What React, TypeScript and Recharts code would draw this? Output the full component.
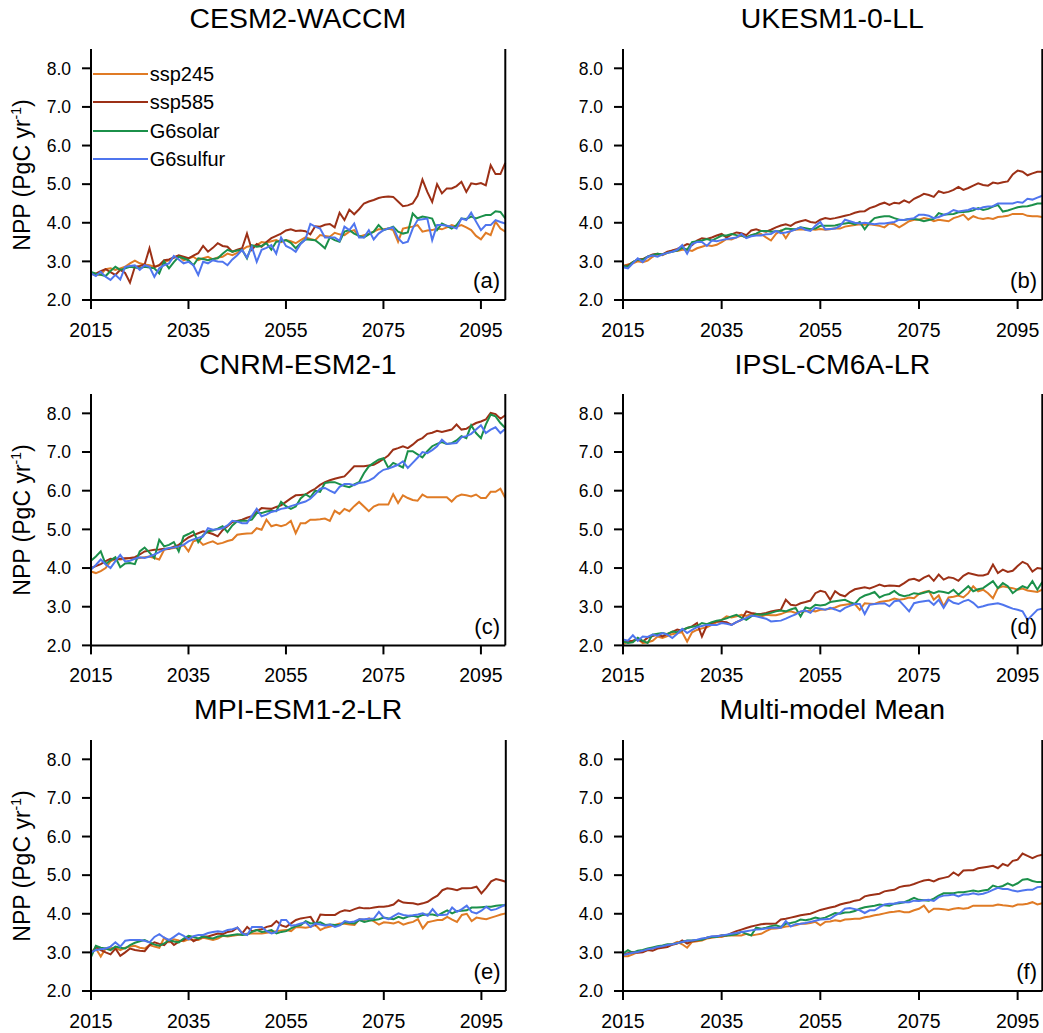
import React from 'react';
import { LineChart, Line, XAxis, YAxis, Legend } from 'recharts';

const FONT = '"Liberation Sans", Arial, Helvetica, sans-serif';

const YEARS: number[] = Array.from({ length: 86 }, (_, i) => 2015 + i);
const X_TICKS = [2015, 2035, 2055, 2075, 2095];
const Y_TICKS = [2, 3, 4, 5, 6, 7, 8];

const SERIES = [
  { key: 'ssp245', name: 'ssp245', color: '#E07B25' },
  { key: 'ssp585', name: 'ssp585', color: '#9C3016' },
  { key: 'G6solar', name: 'G6solar', color: '#1B904A' },
  { key: 'G6sulfur', name: 'G6sulfur', color: '#4F75EE' },
];

// (a) CESM2-WACCM
const cesm_ssp245 = [
  2.68, 2.65, 2.66, 2.80, 2.82, 2.78, 2.82, 2.86, 2.95, 3.02,
  2.95, 2.92, 2.90, 2.86, 2.90, 2.98, 3.03, 3.10, 3.14, 3.03,
  3.08, 3.12, 3.03, 3.08, 3.12, 3.05, 3.10, 3.12, 3.20, 3.16,
  3.22, 3.30, 3.38, 3.40, 3.42, 3.50, 3.48, 3.52, 3.55, 3.50,
  3.55, 3.52, 3.47, 3.55, 3.62, 3.58, 3.55, 3.68, 3.66, 3.64,
  3.74, 3.70, 3.68, 3.77, 3.81, 3.64, 3.68, 3.72, 3.77, 3.83,
  3.83, 3.85, 3.81, 3.51, 3.85, 3.88, 3.90, 3.94, 3.77, 3.80,
  3.81, 3.85, 3.83, 3.88, 3.94, 3.90, 3.94, 3.88, 3.81, 3.66,
  3.57, 3.74, 3.68, 4.03, 3.85, 3.77,
];
const cesm_ssp585 = [
  2.70, 2.68, 2.75, 2.80, 2.72, 2.65, 2.78, 2.70, 2.45, 2.86,
  2.88, 2.92, 3.34, 2.85, 2.90, 3.03, 3.05, 3.10, 3.16, 3.12,
  3.08, 3.15, 3.21, 3.40, 3.25, 3.35, 3.47, 3.40, 3.38, 3.25,
  3.30, 3.34, 3.72, 3.30, 3.45, 3.38, 3.50, 3.60, 3.66, 3.72,
  3.80, 3.83, 3.79, 3.80, 3.78, 3.70, 3.91, 3.90, 3.95, 3.97,
  3.88, 4.26, 4.07, 4.34, 4.22, 4.35, 4.50, 4.55, 4.59, 4.64,
  4.67, 4.68, 4.67, 4.55, 4.43, 4.45, 4.50, 4.70, 5.12, 4.80,
  4.54, 5.00, 4.76, 4.89, 4.89, 4.95, 5.06, 4.80, 5.02, 5.00,
  5.03, 4.97, 5.49, 5.26, 5.26, 5.55,
];
const cesm_g6solar = [
  2.73, 2.68, 2.65, 2.62, 2.75, 2.86, 2.78, 2.82, 2.86, 2.84,
  2.82, 2.86, 2.84, 2.82, 2.69, 3.00, 2.82, 2.98, 3.12, 3.08,
  3.03, 2.90, 3.08, 3.06, 3.03, 3.06, 3.08, 3.20, 3.30, 3.25,
  3.28, 3.30, 3.08, 3.42, 3.38, 3.40, 3.47, 3.30, 3.51, 3.52,
  3.55, 3.48, 3.34, 3.47, 3.57, 3.56, 3.55, 3.45, 3.34, 3.62,
  3.55, 3.51, 3.77, 3.81, 3.72, 3.66, 3.62, 3.70, 3.77, 3.94,
  3.81, 3.85, 3.90, 3.77, 3.72, 3.75, 4.24, 4.11, 4.16, 4.14,
  4.11, 3.81, 3.98, 3.92, 3.85, 3.94, 4.11, 4.10, 4.16, 4.11,
  4.16, 4.20, 4.20, 4.30, 4.28, 4.11,
];
const cesm_g6sulfur = [
  2.69, 2.62, 2.73, 2.60, 2.52, 2.65, 2.53, 2.86, 2.88, 2.90,
  2.78, 2.90, 2.86, 2.60, 2.82, 2.90, 2.95, 3.14, 3.05, 2.95,
  2.99, 2.90, 2.65, 2.99, 2.95, 3.03, 3.00, 2.99, 2.90, 3.05,
  3.16, 3.30, 3.10, 3.38, 2.99, 3.30, 3.35, 3.42, 3.20, 3.62,
  3.40, 3.34, 3.25, 3.45, 3.57, 3.97, 3.90, 3.85, 3.62, 3.62,
  3.62, 3.53, 3.90, 3.81, 3.98, 3.62, 3.62, 3.81, 3.57, 3.72,
  3.81, 3.85, 3.88, 3.60, 3.47, 3.51, 3.85, 4.07, 4.09, 4.11,
  3.55, 3.94, 3.94, 3.92, 3.90, 3.85, 4.11, 4.07, 4.26, 4.03,
  3.81, 3.94, 3.94, 4.07, 4.02, 3.98,
];

// (b) UKESM1-0-LL
const ukesm_ssp245 = [
  2.88, 2.92, 2.95, 3.00, 2.98, 3.02, 3.12, 3.18, 3.16, 3.22,
  3.28, 3.27, 3.30, 3.30, 3.27, 3.34, 3.38, 3.42, 3.40, 3.43,
  3.50, 3.58, 3.57, 3.62, 3.67, 3.62, 3.68, 3.70, 3.71, 3.62,
  3.54, 3.71, 3.80, 3.60, 3.80, 3.82, 3.83, 3.82, 3.83, 3.82,
  3.84, 3.82, 3.83, 3.86, 3.85, 3.90, 3.92, 3.94, 3.96, 3.95,
  3.96, 3.94, 3.92, 3.88, 3.98, 3.96, 3.88, 3.96, 4.04, 4.08,
  4.08, 4.12, 4.10, 4.04, 4.08, 4.06, 4.04, 4.12, 4.16, 4.21,
  4.08, 4.17, 4.12, 4.10, 4.12, 4.10, 4.15, 4.16, 4.18, 4.23,
  4.23, 4.23, 4.18, 4.17, 4.17, 4.15,
];
const ukesm_ssp585 = [
  2.88, 2.90, 2.98, 3.05, 3.06, 3.12, 3.18, 3.20, 3.18, 3.25,
  3.28, 3.32, 3.38, 3.45, 3.42, 3.54, 3.60, 3.58, 3.62, 3.67,
  3.71, 3.62, 3.70, 3.75, 3.73, 3.68, 3.80, 3.83, 3.79, 3.77,
  3.82, 3.88, 3.93, 3.96, 3.92, 4.00, 4.04, 4.07, 4.02, 4.00,
  4.08, 4.12, 4.10, 4.12, 4.15, 4.18, 4.21, 4.26, 4.29, 4.30,
  4.38, 4.42, 4.48, 4.52, 4.46, 4.52, 4.50, 4.58, 4.52, 4.62,
  4.68, 4.75, 4.72, 4.67, 4.82, 4.77, 4.80, 4.85, 4.93, 4.85,
  4.90, 4.96, 5.02, 4.98, 4.96, 5.04, 5.02, 5.05, 5.07, 5.25,
  5.35, 5.32, 5.23, 5.28, 5.32, 5.32,
];
const ukesm_g6solar = [
  2.88, 2.86, 2.98, 3.05, 3.04, 3.12, 3.16, 3.20, 3.18, 3.22,
  3.25, 3.28, 3.35, 3.30, 3.50, 3.52, 3.54, 3.58, 3.54, 3.60,
  3.67, 3.67, 3.71, 3.68, 3.67, 3.62, 3.68, 3.72, 3.79, 3.79,
  3.77, 3.78, 3.79, 3.85, 3.84, 3.83, 3.88, 3.86, 3.83, 3.85,
  3.92, 3.92, 3.92, 3.93, 3.96, 3.98, 4.00, 3.96, 4.02, 3.83,
  4.00, 4.12, 4.15, 4.17, 4.17, 4.12, 4.08, 4.07, 4.10, 4.10,
  4.08, 4.04, 4.07, 4.10, 4.25, 4.21, 4.22, 4.23, 4.27, 4.28,
  4.29, 4.32, 4.38, 4.33, 4.36, 4.42, 4.46, 4.29, 4.32, 4.36,
  4.40, 4.42, 4.43, 4.46, 4.50, 4.50,
];
const ukesm_g6sulfur = [
  2.85, 2.82, 2.95, 3.08, 2.98, 3.12, 3.15, 3.12, 3.18, 3.22,
  3.25, 3.30, 3.42, 3.20, 3.45, 3.50, 3.50, 3.40, 3.54, 3.52,
  3.55, 3.58, 3.60, 3.62, 3.71, 3.60, 3.65, 3.67, 3.67, 3.70,
  3.71, 3.79, 3.73, 3.75, 3.78, 3.83, 3.88, 3.82, 3.79, 3.92,
  4.02, 3.83, 3.84, 3.85, 3.92, 4.08, 4.04, 4.00, 3.98, 4.00,
  3.98, 3.96, 3.98, 3.98, 4.00, 4.02, 4.08, 4.07, 4.10, 4.12,
  4.21, 4.21, 4.18, 4.12, 4.15, 4.20, 4.25, 4.33, 4.29, 4.31,
  4.33, 4.38, 4.35, 4.40, 4.42, 4.43, 4.50, 4.50, 4.50, 4.50,
  4.54, 4.52, 4.62, 4.60, 4.65, 4.70,
];

// (c) CNRM-ESM2-1
const cnrm_ssp245 = [
  3.91, 3.87, 3.92, 4.00, 4.17, 4.24, 4.22, 4.24, 4.26, 4.24,
  4.26, 4.28, 4.30, 4.26, 4.22, 4.47, 4.50, 4.52, 4.53, 4.60,
  4.43, 4.69, 4.73, 4.60, 4.65, 4.69, 4.62, 4.65, 4.70, 4.73,
  4.86, 4.88, 4.89, 4.90, 5.03, 4.99, 5.25, 5.08, 5.12, 5.08,
  5.12, 5.22, 4.90, 5.16, 5.16, 5.25, 5.25, 5.26, 5.28, 5.22,
  5.48, 5.40, 5.53, 5.47, 5.60, 5.71, 5.59, 5.47, 5.59, 5.64,
  5.64, 5.64, 5.91, 5.68, 5.88, 5.81, 5.76, 5.74, 5.90, 5.83,
  5.83, 5.83, 5.83, 5.83, 5.72, 5.85, 5.90, 5.88, 5.85, 5.90,
  5.81, 5.81, 5.97, 5.97, 6.05, 5.81,
];
const cnrm_ssp585 = [
  4.00, 4.05, 4.10, 4.18, 4.24, 4.22, 4.24, 4.25, 4.26, 4.28,
  4.35, 4.43, 4.45, 4.47, 4.48, 4.50, 4.50, 4.55, 4.60, 4.70,
  4.79, 4.85, 4.90, 4.95, 4.92, 4.88, 4.82, 4.98, 5.08, 5.19,
  5.22, 5.25, 5.30, 5.34, 5.45, 5.55, 5.54, 5.53, 5.58, 5.62,
  5.71, 5.80, 5.88, 5.89, 5.90, 5.98, 6.05, 6.15, 6.22, 6.27,
  6.31, 6.34, 6.37, 6.50, 6.63, 6.63, 6.63, 6.65, 6.67, 6.74,
  6.82, 6.91, 7.06, 7.10, 7.15, 7.10, 7.19, 7.30, 7.36, 7.47,
  7.50, 7.55, 7.52, 7.55, 7.58, 7.71, 7.58, 7.60, 7.68, 7.75,
  7.79, 7.84, 8.01, 7.98, 7.86, 7.95,
];
const cnrm_g6solar = [
  4.19, 4.30, 4.43, 4.10, 4.20, 4.28, 4.02, 4.12, 4.13, 4.10,
  4.43, 4.53, 4.40, 4.26, 4.73, 4.56, 4.60, 4.67, 4.43, 4.82,
  4.88, 4.95, 4.67, 4.85, 4.95, 4.97, 5.02, 5.08, 4.93, 5.10,
  5.21, 5.22, 5.22, 5.25, 5.42, 5.42, 5.46, 5.48, 5.47, 5.71,
  5.60, 5.53, 5.59, 5.80, 5.91, 5.83, 6.00, 5.97, 6.20, 6.22,
  6.22, 6.17, 6.12, 6.09, 6.16, 6.22, 6.45, 6.63, 6.72, 6.80,
  6.84, 6.59, 6.72, 6.66, 6.60, 7.02, 7.02, 6.94, 6.86, 7.02,
  7.15, 7.21, 7.26, 7.21, 7.23, 7.30, 7.41, 7.36, 7.69, 7.49,
  7.36, 7.71, 7.97, 7.92, 7.75, 7.62,
];
const cnrm_g6sulfur = [
  3.96, 4.08, 4.22, 4.10, 4.00, 4.18, 4.34, 4.17, 4.19, 4.24,
  4.28, 4.26, 4.30, 4.35, 4.41, 4.48, 4.52, 4.53, 4.56, 4.60,
  4.69, 4.74, 4.78, 4.82, 5.03, 4.99, 5.00, 5.03, 5.10, 5.22,
  5.20, 5.16, 5.16, 5.35, 5.53, 5.34, 5.38, 5.45, 5.48, 5.53,
  5.55, 5.60, 5.64, 5.68, 5.72, 5.79, 5.91, 6.05, 6.07, 6.00,
  5.94, 6.10, 6.17, 6.17, 6.14, 6.20, 6.22, 6.26, 6.33, 6.45,
  6.54, 6.57, 6.62, 6.67, 6.76, 6.59, 6.72, 6.85, 7.00, 6.97,
  7.05, 7.15, 7.32, 7.21, 7.22, 7.23, 7.38, 7.41, 7.47, 7.58,
  7.69, 7.49, 7.58, 7.64, 7.49, 7.60,
];

// (d) IPSL-CM6A-LR
const ipsl_ssp245 = [
  2.03, 2.10, 2.12, 2.17, 2.06, 2.08, 2.12, 2.23, 2.19, 2.24,
  2.29, 2.32, 2.34, 2.10, 2.34, 2.40, 2.44, 2.47, 2.53, 2.60,
  2.66, 2.75, 2.72, 2.75, 2.79, 2.76, 2.81, 2.78, 2.75, 2.79,
  2.78, 2.78, 2.81, 2.86, 2.88, 2.84, 2.87, 2.88, 2.90, 2.88,
  2.92, 2.93, 2.95, 2.98, 3.03, 3.05, 3.07, 3.07, 2.92, 3.09,
  3.08, 3.07, 3.12, 3.14, 3.16, 3.21, 3.18, 3.20, 3.24, 3.22,
  3.33, 3.38, 3.41, 3.18, 3.29, 3.01, 3.24, 3.26, 3.29, 3.24,
  3.35, 3.53, 3.40, 3.44, 3.35, 3.22, 3.48, 3.53, 3.50, 3.48,
  3.44, 3.47, 3.42, 3.40, 3.38, 3.44,
];
const ipsl_ssp585 = [
  2.09, 2.10, 2.12, 2.15, 2.10, 2.20, 2.24, 2.28, 2.23, 2.30,
  2.35, 2.41, 2.38, 2.45, 2.49, 2.58, 2.23, 2.52, 2.58, 2.62,
  2.61, 2.60, 2.53, 2.60, 2.66, 2.88, 2.84, 2.82, 2.81, 2.84,
  2.88, 2.90, 2.92, 3.18, 3.05, 3.03, 3.09, 3.12, 3.16, 3.35,
  3.41, 3.38, 3.18, 3.40, 3.31, 3.27, 3.38, 3.45, 3.48, 3.50,
  3.47, 3.52, 3.57, 3.53, 3.55, 3.54, 3.53, 3.61, 3.70, 3.72,
  3.67, 3.75, 3.81, 3.67, 3.83, 3.70, 3.76, 3.74, 3.67, 3.80,
  3.87, 3.84, 3.81, 3.81, 3.85, 4.09, 3.87, 3.96, 3.90, 3.93,
  4.05, 4.16, 4.10, 3.91, 4.00, 3.98,
];
const ipsl_g6solar = [
  2.10, 2.06, 2.08, 2.20, 2.12, 2.06, 2.28, 2.30, 2.32, 2.29,
  2.36, 2.34, 2.40, 2.45, 2.48, 2.50, 2.58, 2.55, 2.60, 2.64,
  2.66, 2.70, 2.75, 2.79, 2.72, 2.66, 2.75, 2.81, 2.79, 2.81,
  2.84, 2.88, 2.90, 2.88, 2.93, 2.97, 2.75, 2.98, 2.95, 3.05,
  3.03, 3.05, 3.12, 3.14, 3.16, 3.18, 3.12, 3.07, 3.22, 3.29,
  3.33, 3.38, 3.24, 3.30, 3.33, 3.41, 3.31, 3.27, 3.30, 3.35,
  3.33, 3.36, 3.40, 3.35, 3.40, 3.38, 3.35, 3.44, 3.31, 3.42,
  3.53, 3.40, 3.45, 3.48, 3.57, 3.66, 3.48, 3.61, 3.53, 3.35,
  3.45, 3.53, 3.48, 3.66, 3.44, 3.64,
];
const ipsl_g6sulfur = [
  2.15, 2.12, 2.26, 2.12, 2.23, 2.22, 2.28, 2.25, 2.32, 2.28,
  2.19, 2.30, 2.43, 2.32, 2.40, 2.47, 2.50, 2.53, 2.53, 2.53,
  2.58, 2.56, 2.53, 2.60, 2.66, 2.71, 2.77, 2.75, 2.72, 2.69,
  2.62, 2.63, 2.64, 2.69, 2.75, 2.80, 2.88, 2.90, 2.84, 2.97,
  2.95, 2.92, 2.97, 2.93, 2.88, 2.97, 3.02, 3.07, 3.07, 2.81,
  3.05, 3.07, 3.08, 3.09, 3.01, 3.14, 3.16, 3.02, 2.88, 3.09,
  3.12, 3.14, 3.16, 3.05, 3.18, 2.97, 3.18, 3.10, 3.07, 3.14,
  3.18, 3.10, 2.98, 3.01, 3.05, 3.07, 3.09, 3.05, 3.00, 2.95,
  2.92, 2.88, 2.66, 2.79, 2.92, 2.95,
];

// (e) MPI-ESM1-2-LR
const mpi_ssp245 = [
  3.02, 3.10, 2.89, 3.10, 3.11, 3.12, 3.06, 3.12, 3.15, 3.17,
  3.12, 3.10, 3.19, 3.15, 3.12, 3.38, 3.26, 3.34, 3.31, 3.29,
  3.34, 3.33, 3.32, 3.38, 3.35, 3.32, 3.36, 3.43, 3.41, 3.43,
  3.45, 3.47, 3.48, 3.49, 3.49, 3.49, 3.51, 3.53, 3.55, 3.57,
  3.58, 3.55, 3.66, 3.65, 3.64, 3.66, 3.71, 3.58, 3.64, 3.67,
  3.71, 3.75, 3.74, 3.72, 3.71, 3.86, 3.84, 3.88, 3.80, 3.72,
  3.78, 3.77, 3.75, 3.79, 3.72, 3.76, 3.79, 3.86, 3.62, 3.78,
  3.81, 3.84, 3.84, 3.92, 3.85, 3.79, 3.97, 4.00, 3.81, 3.90,
  3.88, 3.86, 3.90, 3.94, 3.98, 4.01,
];
const mpi_ssp585 = [
  2.93, 3.15, 3.06, 3.00, 2.95, 3.10, 2.91, 3.00, 3.10, 3.06,
  3.04, 3.03, 3.19, 3.26, 3.22, 3.19, 3.32, 3.19, 3.28, 3.32,
  3.41, 3.29, 3.35, 3.41, 3.41, 3.45, 3.49, 3.47, 3.53, 3.55,
  3.64, 3.49, 3.66, 3.55, 3.58, 3.60, 3.66, 3.69, 3.81, 3.70,
  3.66, 3.75, 3.84, 3.88, 3.90, 3.92, 3.72, 3.98, 3.97, 3.97,
  3.97, 4.05, 4.09, 4.07, 4.12, 4.16, 4.14, 4.14, 4.16, 4.18,
  4.18, 4.20, 4.24, 4.35, 4.29, 4.28, 4.27, 4.24, 4.27, 4.31,
  4.40, 4.47, 4.61, 4.66, 4.64, 4.61, 4.66, 4.66, 4.67, 4.70,
  4.53, 4.67, 4.84, 4.90, 4.87, 4.83,
];
const mpi_g6solar = [
  2.88, 3.17, 3.12, 3.10, 3.06, 3.15, 3.12, 3.10, 3.19, 3.25,
  3.29, 3.32, 3.26, 3.20, 3.17, 3.23, 3.32, 3.28, 3.26, 3.36,
  3.43, 3.40, 3.36, 3.41, 3.38, 3.36, 3.41, 3.43, 3.43, 3.45,
  3.47, 3.45, 3.46, 3.53, 3.58, 3.53, 3.55, 3.58, 3.49, 3.53,
  3.55, 3.62, 3.68, 3.71, 3.81, 3.75, 3.76, 3.78, 3.71, 3.72,
  3.71, 3.71, 3.78, 3.76, 3.75, 3.84, 3.79, 3.82, 3.84, 3.86,
  3.90, 3.88, 3.86, 3.92, 3.88, 3.93, 3.95, 3.92, 3.97, 3.98,
  3.98, 3.95, 4.02, 4.09, 4.01, 4.07, 4.08, 4.09, 4.16, 4.16,
  4.17, 4.18, 4.18, 4.21, 4.22, 4.22,
];
const mpi_g6sulfur = [
  3.00, 3.06, 3.08, 3.10, 3.15, 3.26, 3.15, 3.30, 3.32, 3.32,
  3.32, 3.30, 3.26, 3.40, 3.47, 3.38, 3.32, 3.40, 3.49, 3.43,
  3.34, 3.42, 3.45, 3.45, 3.50, 3.53, 3.55, 3.53, 3.58, 3.60,
  3.64, 3.49, 3.45, 3.66, 3.66, 3.66, 3.55, 3.49, 3.53, 3.84,
  3.84, 3.69, 3.71, 3.75, 3.78, 3.66, 3.75, 3.72, 3.69, 3.72,
  3.66, 3.70, 3.81, 3.78, 3.80, 3.86, 3.86, 3.87, 3.88, 4.05,
  3.90, 3.86, 3.94, 4.01, 3.97, 3.95, 3.96, 3.98, 4.01, 3.95,
  4.12, 3.97, 3.97, 3.98, 4.16, 4.05, 4.12, 4.21, 4.05, 4.01,
  4.08, 4.18, 4.09, 4.12, 4.18, 4.24,
];

// (f) Multi-model Mean
const mmm_ssp245 = [
  2.90, 2.90, 2.95, 3.01, 3.04, 3.06, 3.10, 3.12, 3.16, 3.18,
  3.21, 3.27, 3.21, 3.12, 3.27, 3.29, 3.31, 3.36, 3.38, 3.40,
  3.40, 3.44, 3.44, 3.44, 3.44, 3.48, 3.44, 3.46, 3.48, 3.55,
  3.61, 3.62, 3.64, 3.67, 3.68, 3.70, 3.74, 3.74, 3.76, 3.79,
  3.70, 3.79, 3.80, 3.83, 3.81, 3.85, 3.86, 3.87, 3.87, 3.91,
  3.93, 3.96, 3.98, 4.01, 4.04, 4.05, 4.07, 4.04, 4.04, 4.09,
  4.13, 4.21, 4.04, 4.13, 4.13, 4.12, 4.10, 4.13, 4.15, 4.13,
  4.15, 4.21, 4.21, 4.21, 4.21, 4.21, 4.24, 4.22, 4.21, 4.19,
  4.24, 4.24, 4.26, 4.30, 4.24, 4.27,
];
const mmm_ssp585 = [
  2.95, 2.98, 3.01, 2.99, 3.00, 3.06, 3.04, 3.10, 3.12, 3.14,
  3.20, 3.23, 3.31, 3.23, 3.29, 3.31, 3.33, 3.38, 3.40, 3.42,
  3.44, 3.44, 3.50, 3.55, 3.59, 3.63, 3.67, 3.70, 3.73, 3.74,
  3.74, 3.75, 3.85, 3.87, 3.90, 3.93, 3.96, 3.98, 4.00, 4.05,
  4.10, 4.13, 4.16, 4.19, 4.24, 4.27, 4.30, 4.34, 4.36, 4.45,
  4.48, 4.50, 4.52, 4.58, 4.60, 4.62, 4.69, 4.72, 4.73, 4.77,
  4.82, 4.86, 4.88, 4.84, 4.90, 4.93, 4.96, 5.07, 4.99, 5.12,
  5.13, 5.13, 5.18, 5.20, 5.22, 5.24, 5.18, 5.29, 5.24, 5.37,
  5.40, 5.56, 5.50, 5.44, 5.50, 5.53,
];
const mmm_g6solar = [
  2.97, 3.06, 2.99, 3.04, 3.06, 3.10, 3.13, 3.16, 3.18, 3.21,
  3.21, 3.24, 3.27, 3.31, 3.31, 3.32, 3.33, 3.38, 3.40, 3.40,
  3.44, 3.44, 3.45, 3.47, 3.53, 3.48, 3.44, 3.64, 3.61, 3.64,
  3.68, 3.70, 3.66, 3.74, 3.76, 3.79, 3.85, 3.83, 3.86, 3.90,
  3.87, 3.90, 3.96, 4.02, 4.00, 4.03, 4.04, 4.07, 4.13, 4.17,
  4.19, 4.21, 4.24, 4.22, 4.21, 4.26, 4.27, 4.30, 4.35, 4.41,
  4.36, 4.35, 4.34, 4.39, 4.47, 4.53, 4.53, 4.53, 4.56, 4.56,
  4.58, 4.60, 4.58, 4.60, 4.62, 4.73, 4.69, 4.72, 4.79, 4.73,
  4.79, 4.88, 4.90, 4.85, 4.82, 4.82,
];
const mmm_g6sulfur = [
  2.93, 2.96, 2.99, 3.01, 3.04, 3.08, 3.10, 3.14, 3.16, 3.19,
  3.21, 3.24, 3.27, 3.30, 3.31, 3.33, 3.36, 3.38, 3.42, 3.42,
  3.44, 3.46, 3.48, 3.50, 3.53, 3.55, 3.57, 3.59, 3.60, 3.62,
  3.64, 3.64, 3.64, 3.81, 3.67, 3.73, 3.74, 3.76, 3.79, 3.82,
  3.85, 3.86, 3.87, 3.96, 4.02, 4.13, 4.15, 4.12, 4.09, 4.02,
  4.09, 4.09, 4.17, 4.24, 4.26, 4.26, 4.30, 4.30, 4.30, 4.34,
  4.33, 4.35, 4.36, 4.33, 4.43, 4.47, 4.48, 4.50, 4.45, 4.50,
  4.50, 4.53, 4.50, 4.52, 4.56, 4.62, 4.67, 4.64, 4.64, 4.60,
  4.58, 4.60, 4.62, 4.62, 4.69, 4.70,
];

type Row = { year: number; ssp245: number; ssp585: number; G6solar: number; G6sulfur: number };

function buildData(a: number[], b: number[], c: number[], d: number[]): Row[] {
  return YEARS.map((year, i) => ({ year, ssp245: a[i], ssp585: b[i], G6solar: c[i], G6sulfur: d[i] }));
}

type Box = { l: number; t: number; r: number; b: number };

const PANELS: { title: string; tag: string; box: Box; data: Row[]; ylabel: boolean; legend: boolean }[] = [
  { title: 'CESM2-WACCM', tag: '(a)', box: { l: 90.7, t: 49, r: 505, b: 300 }, data: buildData(cesm_ssp245, cesm_ssp585, cesm_g6solar, cesm_g6sulfur), ylabel: true, legend: true },
  { title: 'UKESM1-0-LL', tag: '(b)', box: { l: 622.7, t: 49, r: 1042, b: 300 }, data: buildData(ukesm_ssp245, ukesm_ssp585, ukesm_g6solar, ukesm_g6sulfur), ylabel: false, legend: false },
  { title: 'CNRM-ESM2-1', tag: '(c)', box: { l: 90.7, t: 394.3, r: 505, b: 645.7 }, data: buildData(cnrm_ssp245, cnrm_ssp585, cnrm_g6solar, cnrm_g6sulfur), ylabel: true, legend: false },
  { title: 'IPSL-CM6A-LR', tag: '(d)', box: { l: 622.7, t: 394.3, r: 1042, b: 645.7 }, data: buildData(ipsl_ssp245, ipsl_ssp585, ipsl_g6solar, ipsl_g6sulfur), ylabel: false, legend: false },
  { title: 'MPI-ESM1-2-LR', tag: '(e)', box: { l: 90.7, t: 740, r: 505.5, b: 991 }, data: buildData(mpi_ssp245, mpi_ssp585, mpi_g6solar, mpi_g6sulfur), ylabel: true, legend: false },
  { title: 'Multi-model Mean', tag: '(f)', box: { l: 622.7, t: 740, r: 1042, b: 991 }, data: buildData(mmm_ssp245, mmm_ssp585, mmm_g6solar, mmm_g6sulfur), ylabel: false, legend: false },
];

const LW = 60;
const RW = 12;
const MT = 4;
const MR = 2;
const XH = 40;

const axisLineStyle = { stroke: '#000', strokeWidth: 2 };

const LegendContent = () => (
  <div style={{ fontFamily: FONT, fontSize: 20, color: '#000' }}>
    {SERIES.map((s) => (
      <div key={s.key} style={{ display: 'flex', alignItems: 'center', height: 28.5 }}>
        <svg width={55} height={4} style={{ display: 'block' }}>
          <line x1={0} y1={2} x2={55} y2={2} stroke={s.color} strokeWidth={2} />
        </svg>
        <span style={{ marginLeft: 2, lineHeight: '20px' }}>{s.name}</span>
      </div>
    ))}
  </div>
);

function Panel({ p }: { p: (typeof PANELS)[number] }) {
  const { box } = p;
  const W = box.r - box.l + LW + RW + MR;
  const H = box.b - box.t + MT + XH;
  const left = box.l - LW;
  const top = box.t - MT;
  return (
    <div style={{ position: 'absolute', left, top, width: W, height: H }}>
      <LineChart width={W} height={H} data={p.data} margin={{ top: MT, right: MR, bottom: 0, left: 0 }}>
        <XAxis
          xAxisId="b"
          dataKey="year"
          type="number"
          domain={[2015, 2100]}
          ticks={X_TICKS}
          interval={0}
          height={XH}
          tickSize={9}
          tickMargin={14}
          axisLine={axisLineStyle}
          tickLine={axisLineStyle}
          tick={{ fontSize: 19.5, fill: '#000', fontFamily: FONT }}
        />
        <XAxis
          xAxisId="t"
          orientation="top"
          dataKey="year"
          type="number"
          domain={[2015, 2100]}
          height={0}
          tick={false}
          tickLine={false}
          axisLine={axisLineStyle}
        />
        <YAxis
          yAxisId="l"
          type="number"
          domain={[2, 8.5]}
          ticks={Y_TICKS}
          interval={0}
          width={LW}
          tickSize={9}
          tickMargin={11}
          tickFormatter={(v: number) => v.toFixed(1)}
          axisLine={axisLineStyle}
          tickLine={axisLineStyle}
          tick={{ fontSize: 17.5, fill: '#000', fontFamily: FONT }}
        />
        <YAxis
          yAxisId="r"
          orientation="right"
          type="number"
          domain={[2, 8.5]}
          ticks={Y_TICKS}
          interval={0}
          width={RW}
          tickSize={9}
          tick={false}
          axisLine={axisLineStyle}
          tickLine={axisLineStyle}
        />
        {p.legend && (
          <Legend
            layout="vertical"
            align="center"
            verticalAlign="middle"
            content={LegendContent}
            wrapperStyle={{ left: 62, top: 14.5, width: 'auto', height: 'auto' }}
          />
        )}
        {SERIES.map((s) => (
          <Line
            key={s.key}
            xAxisId="b"
            yAxisId="l"
            type="linear"
            dataKey={s.key}
            name={s.name}
            stroke={s.color}
            strokeWidth={2}
            dot={false}
            activeDot={false}
            isAnimationActive={false}
          />
        ))}
      </LineChart>
    </div>
  );
}

function textTop(baseline: number, fs: number) {
  return baseline - 0.8465 * fs;
}

export default function App() {
  return (
    <div
      style={{
        position: 'absolute',
        left: 0,
        top: 0,
        width: 1043,
        height: 1033,
        overflow: 'hidden',
        background: '#fff',
        fontFamily: FONT,
        color: '#000',
      }}
    >
      {PANELS.map((p) => {
        const cx = (p.box.l + p.box.r) / 2;
        const cy = (p.box.t + p.box.b) / 2;
        return (
          <React.Fragment key={p.tag}>
            <div
              style={{
                position: 'absolute',
                left: cx,
                top: textTop(p.box.t - 20.7, 28.4),
                transform: 'translateX(-50%)',
                fontSize: 28.4,
                lineHeight: '28.4px',
                whiteSpace: 'nowrap',
              }}
            >
              {p.title}
            </div>
            <Panel p={p} />
            <div
              style={{
                position: 'absolute',
                right: 1043 - (p.box.r - 5),
                top: textTop(p.box.b - 11.3, 22),
                fontSize: 22,
                lineHeight: '22px',
                whiteSpace: 'nowrap',
              }}
            >
              {p.tag}
            </div>
            {p.ylabel && (
              <div
                style={{
                  position: 'absolute',
                  left: 24,
                  top: cy,
                  transform: 'translate(-50%, -50%) rotate(-90deg)',
                  fontSize: 23,
                  lineHeight: '23px',
                  whiteSpace: 'nowrap',
                }}
              >
                NPP (PgC yr<sup style={{ fontSize: 14, verticalAlign: 'baseline', position: 'relative', top: -9 }}>-1</sup>)
              </div>
            )}
          </React.Fragment>
        );
      })}
    </div>
  );
}
